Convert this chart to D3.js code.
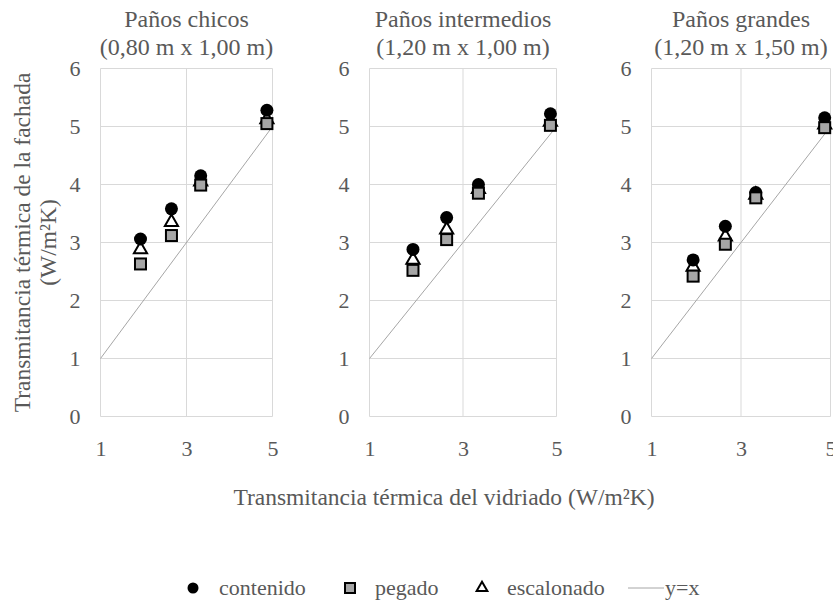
<!DOCTYPE html>
<html>
<head>
<meta charset="utf-8">
<script src="https://cdn.jsdelivr.net/npm/d3@7"></script>
<style>
  body { margin: 0; background: #fff; }
</style>
</head>
<body>
<svg id="chart" width="833" height="603"></svg>
<script>
// datos
const panelTitles = [
    ['Paños chicos', '(0,80 m x 1,00 m)'],
    ['Paños intermedios', '(1,20 m x 1,00 m)'],
    ['Paños grandes', '(1,20 m x 1,50 m)']
];
const uVidriado = [1.93, 2.65, 3.33, 4.87];
const contenido = [
    [3.06, 3.58, 4.15, 5.28],
    [2.88, 3.43, 4.00, 5.22],
    [2.70, 3.28, 3.86, 5.15]
];
const pegado = [
    [2.63, 3.12, 3.99, 5.05],
    [2.52, 3.05, 3.85, 5.02],
    [2.42, 2.97, 3.77, 4.98]
];
const escalonado = [
    [2.88, 3.35, 4.05, 5.12],
    [2.70, 3.22, 3.92, 5.08],
    [2.58, 3.10, 3.82, 5.03]
];
const identidad = [1, 5];
const xTicks = [1, 3, 5];
const yTicks = [0, 1, 2, 3, 4, 5, 6];
const legendLabels = ['contenido', 'pegado', 'escalonado', 'y=x'];

// layout de cada panel (px)
const panels = [
    { left: 100.5, right: 272.5 },
    { left: 369.5, right: 556.5 },
    { left: 651.5, right: 830.5 }
];
const plotTop = 68.5;
const plotBottom = 416.5;
const grid = '#d9d9d9';
const serif = '"Liberation Serif", "Times New Roman", serif';
const txt = '#595959';

const svg = d3.select('#chart');

function drawPanel(p, i) {
    let x = d3.scaleLinear().domain([1, 5]).range([p.left, p.right]);
    let y = d3.scaleLinear().domain([0, 6]).range([plotBottom, plotTop]);
    let g = svg.append('g');

    // grid
    g.append('g').selectAll('line')
        .data(yTicks).join('line')
        .attr('x1', p.left).attr('x2', p.right)
        .attr('y1', d => y(d)).attr('y2', d => y(d))
        .attr('stroke', grid).attr('stroke-width', 1);
    g.append('g').selectAll('line')
        .data(xTicks).join('line')
        .attr('x1', d => x(d)).attr('x2', d => x(d))
        .attr('y1', plotTop).attr('y2', plotBottom)
        .attr('stroke', grid).attr('stroke-width', 1);

    // ejes
    let xa = g.append('g').attr('transform', `translate(0,${plotBottom})`)
        .call(d3.axisBottom(x).tickValues(xTicks).tickSize(0).tickPadding(24).tickFormat(d3.format('d')));
    xa.select('.domain').remove();
    let ya = g.append('g').attr('transform', `translate(${p.left},0)`)
        .call(d3.axisLeft(y).tickValues(yTicks).tickSize(0).tickPadding(20).tickFormat(d3.format('d')));
    ya.select('.domain').remove();
    g.selectAll('.tick text')
        .style('font-family', serif).style('font-size', '22px').style('fill', txt);

    // y = x
    g.append('line')
        .attr('x1', x(identidad[0])).attr('y1', y(identidad[0]))
        .attr('x2', x(identidad[1])).attr('y2', y(identidad[1]))
        .attr('stroke', '#a6a6a6').attr('stroke-width', 1);

    // escalonado (debajo)
    g.append('g').selectAll('path')
        .data(escalonado[i]).join('path')
        .attr('transform', (d, k) => `translate(${x(uVidriado[k])},${y(d)})`)
        .attr('d', d3.symbol(d3.symbolTriangle, 75)())
        .attr('fill', '#fff').attr('stroke', '#000').attr('stroke-width', 2);
    // contenido
    g.append('g').selectAll('circle')
        .data(contenido[i]).join('circle')
        .attr('cx', (d, k) => x(uVidriado[k])).attr('cy', d => y(d))
        .attr('r', 6.5).attr('fill', '#000');
    // pegado
    g.append('g').selectAll('rect')
        .data(pegado[i]).join('rect')
        .attr('x', (d, k) => x(uVidriado[k]) - 5.5).attr('y', d => y(d) - 5.5)
        .attr('width', 11).attr('height', 11)
        .attr('fill', '#a6a6a6').attr('stroke', '#000').attr('stroke-width', 2);

    // titulo
    let cx = (p.left + p.right) / 2;
    g.selectAll('text.titulo').data(panelTitles[i]).join('text')
        .attr('class', 'titulo')
        .attr('x', cx).attr('y', (d, k) => 27 + k * 28)
        .attr('text-anchor', 'middle')
        .style('font-family', serif).style('font-size', '24px').style('fill', txt)
        .text(d => d);
}

panels.forEach(drawPanel);

// titulos de ejes
svg.append('text').attr('x', 444).attr('y', 505).attr('text-anchor', 'middle')
    .style('font-family', serif).style('font-size', '23.5px').style('fill', txt)
    .text('Transmitancia térmica del vidriado (W/m²K)');
let yt = svg.append('text').attr('transform', `translate(0,${(plotTop + plotBottom) / 2}) rotate(-90)`)
    .attr('text-anchor', 'middle')
    .style('font-family', serif).style('font-size', '23.5px').style('fill', txt);
yt.append('tspan').attr('x', 0).attr('y', 30).text('Transmitancia térmica de la fachada');
yt.append('tspan').attr('x', 0).attr('y', 56).text('(W/m²K)');

// leyenda
const ly = 588;
const leg = svg.append('g');
leg.append('circle').attr('cx', 193).attr('cy', ly).attr('r', 5.5).attr('fill', '#000');
leg.append('rect').attr('x', 345).attr('y', ly - 5).attr('width', 10).attr('height', 10)
    .attr('fill', '#a6a6a6').attr('stroke', '#000').attr('stroke-width', 2);
leg.append('path').attr('transform', `translate(482,${ly})`)
    .attr('d', d3.symbol(d3.symbolTriangle, 50)())
    .attr('fill', '#fff').attr('stroke', '#000').attr('stroke-width', 2);
leg.append('line').attr('x1', 628).attr('x2', 664).attr('y1', ly).attr('y2', ly)
    .attr('stroke', '#a6a6a6').attr('stroke-width', 1);
const legX = [219, 375, 507, 665];
leg.selectAll('text').data(legendLabels).join('text')
    .attr('x', (d, k) => legX[k]).attr('y', ly + 7)
    .style('font-family', serif).style('font-size', '22px').style('fill', txt)
    .text(d => d);
</script>
</body>
</html>
